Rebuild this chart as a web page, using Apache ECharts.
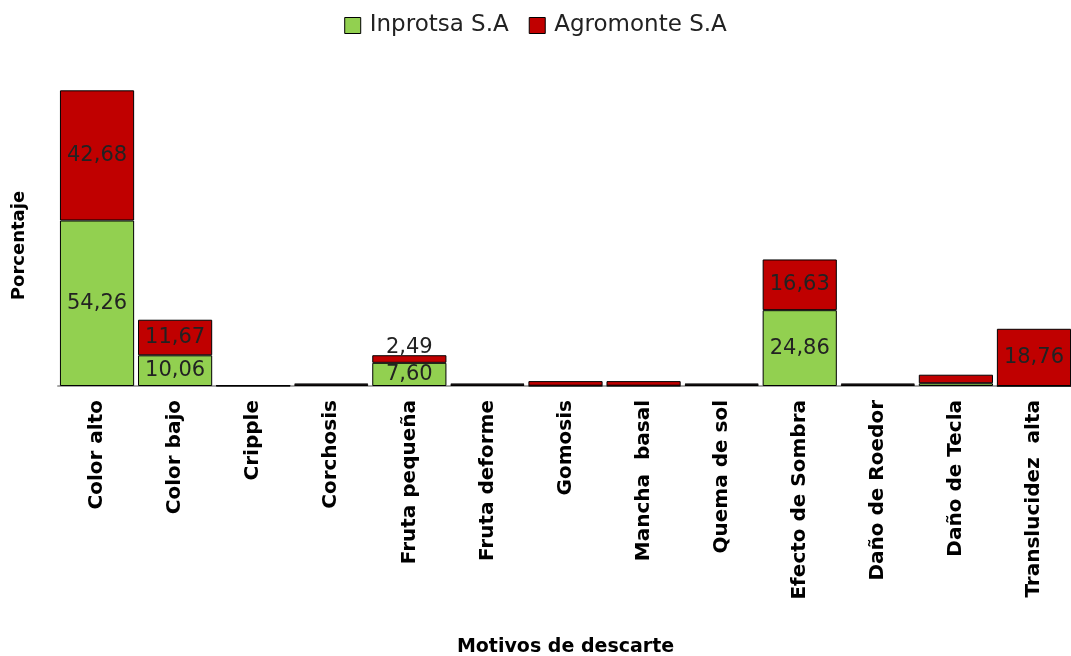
<!DOCTYPE html>
<html>
<head>
<meta charset="utf-8">
<script src="https://cdn.jsdelivr.net/npm/echarts@6/dist/echarts.min.js"></script>
<style>html,body{margin:0;padding:0;background:#fff}#c{width:1071px;height:656px}</style>
</head>
<body>
<div id="c"></div>
<script>
const categories = ['Color alto','Color bajo','Cripple','Corchosis','Fruta pequeña','Fruta deforme','Gomosis','Mancha  basal','Quema de sol','Efecto de Sombra','Daño de Roedor','Daño de Tecla','Translucidez  alta'];
const inprotsa  = [54.26, 10.06, 0.1, 0.4, 7.60, 0.4, 0.1, 0.1, 0.4, 24.86, 0.4, 0.9, 0];
const agromonte = [42.68, 11.67, 0.1, 0.4, 2.49, 0.4, 1.5, 1.5, 0.4, 16.63, 0.4, 2.8, 18.76];
const inprotsaLabeled  = [0, 1, 4, 9];
const agromonteLabeled = [0, 1, 4, 9, 12];

function fmt(v){ return v.toFixed(2).replace('.', ','); }
function build(vals, labeled){
  return vals.map((v,i)=>{
    const item = {value: v};
    if (labeled.includes(i)) {
      const inside = v >= 5;
      item.label = {show:true, position: inside ? 'inside' : 'top', distance: inside ? 5 : -3};
    }
    return item;
  });
}
const chart = echarts.init(document.getElementById('c'));
const labelStyle = {show:false, color:'#222', fontFamily:'DejaVu Sans', fontSize:21, formatter: p => fmt(p.value)};
chart.setOption({
  animation:false,
  legend:{
    top:9, left:'center',
    itemWidth:16, itemHeight:16, itemGap:20,
    icon:'rect',
    textStyle:{fontFamily:'DejaVu Sans', fontSize:23, color:'#222', padding:[0,0,0,4]},
    data:[{name:'Inprotsa S.A', itemStyle:{borderColor:'#000', borderWidth:1}},{name:'Agromonte S.A', itemStyle:{borderColor:'#000', borderWidth:1}}]
  },
  grid:{left:58, top:81, width:1015, height:305, outerBoundsMode:'none', containLabel:false},
  xAxis:{
    type:'category', data:categories,
    axisLine:{lineStyle:{color:'#a6a6a6', width:2}},
    axisTick:{show:false},
    axisLabel:{rotate:90, interval:0, margin:14, color:'#000', fontFamily:'DejaVu Sans', fontWeight:'bold', fontSize:20},
    name:'Motivos de descarte', nameLocation:'middle', nameGap:252,
    nameTextStyle:{fontFamily:'DejaVu Sans', fontWeight:'bold', fontSize:19, color:'#000'}
  },
  yAxis:{
    type:'value', min:0, max:100,
    axisLine:{show:false}, axisTick:{show:false}, axisLabel:{show:false}, splitLine:{show:false},
    name:'Porcentaje', nameLocation:'middle', nameGap:30,
    nameTextStyle:{fontFamily:'DejaVu Sans', fontWeight:'bold', fontSize:18, color:'#000', padding:[0,24,0,0]}
  },
  series:[
    {name:'Inprotsa S.A', type:'bar', stack:'t', barCategoryGap:'5%',
     itemStyle:{color:'#92D050', borderColor:'#000', borderWidth:1},
     label:labelStyle, data:build(inprotsa, inprotsaLabeled)},
    {name:'Agromonte S.A', type:'bar', stack:'t', barCategoryGap:'5%',
     itemStyle:{color:'#C00000', borderColor:'#000', borderWidth:1},
     label:labelStyle, data:build(agromonte, agromonteLabeled)}
  ]
});
</script>
</body>
</html>
